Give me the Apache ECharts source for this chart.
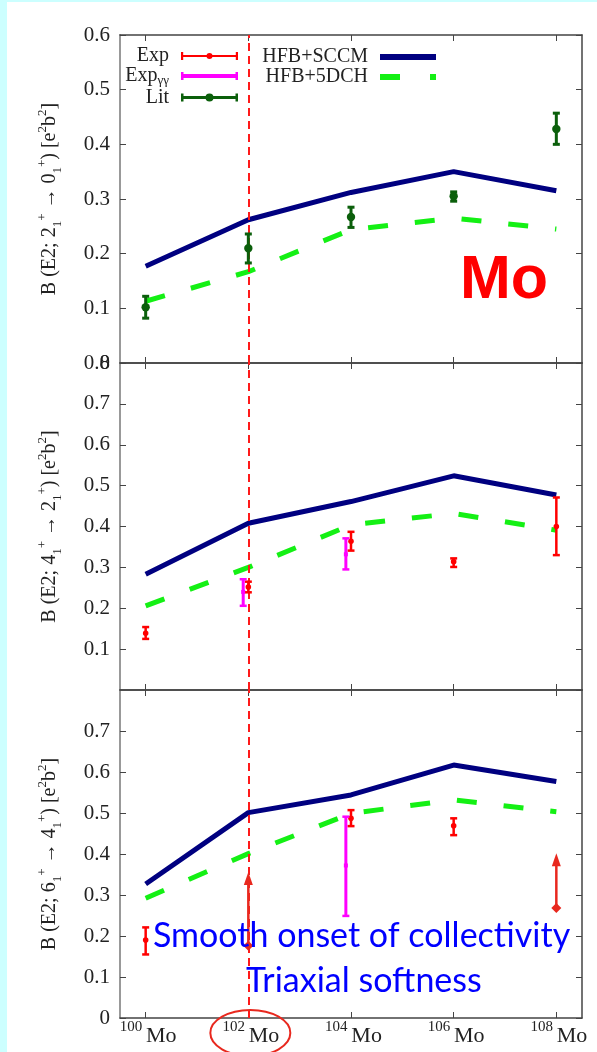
<!DOCTYPE html>
<html><head><meta charset="utf-8">
<script src="https://cdn.jsdelivr.net/npm/echarts@6/dist/echarts.min.js"></script>
<style>html,body{margin:0;padding:0;background:#fff}#c{width:597px;height:1052px}</style>
</head><body><div id="c"></div>
<script>
// ---------- data ----------
const masses = [100, 102, 104, 106, 108];
const massTicks = [100, 102, 104, 106, 108];
const highlightMass = 102;

// Panel 1: B(E2; 2+ -> 0+)
const sccm20 = [0.177, 0.262, 0.312, 0.350, 0.315];
const dch20  = [0.113, 0.167, 0.244, 0.265, 0.245];
const litX   = [100, 102, 104, 106, 108];
const litVal = [0.102, 0.210, 0.267, 0.305, 0.428];
const litLo  = [0.082, 0.183, 0.248, 0.296, 0.400];
const litHi  = [0.122, 0.236, 0.285, 0.313, 0.457];

// Panel 2: B(E2; 4+ -> 2+)
const sccm42 = [0.283, 0.408, 0.461, 0.524, 0.477];
const dch42  = [0.206, 0.300, 0.404, 0.432, 0.391];
const exp42X = [100, 102, 104, 106, 108];
const exp42V = [0.139, 0.252, 0.364, 0.314, 0.400];
const exp42L = [0.125, 0.239, 0.341, 0.301, 0.330];
const exp42H = [0.154, 0.265, 0.387, 0.322, 0.471];
const gg42X  = [101.9, 103.9];
const gg42V  = [0.240, 0.332];
const gg42L  = [0.206, 0.295];
const gg42H  = [0.271, 0.371];

// Panel 3: B(E2; 6+ -> 4+)
const sccm64 = [0.327, 0.501, 0.544, 0.617, 0.577];
const dch64  = [0.292, 0.401, 0.499, 0.532, 0.503];
const exp64X = [100, 104, 106];
const exp64V = [0.190, 0.487, 0.469];
const exp64L = [0.155, 0.468, 0.446];
const exp64H = [0.221, 0.507, 0.487];
const gg64X  = [103.9];
const gg64V  = [0.372];
const gg64L  = [0.249];
const gg64H  = [0.491];
const lim64X    = [102, 108];
const lim64Base = [0.176, 0.268];
const lim64Tip  = [0.356, 0.402];

const yMax = [0.6, 0.8, 0.8];
const yNames = [
  '{t|B (E2; 2}{sb|1}{sp|+}{t| → 0}{sb|1}{sp|+}{t|) [e}{sp|2}{t|b}{sp|2}{t|]}',
  '{t|B (E2; 4}{sb|1}{sp|+}{t| → 2}{sb|1}{sp|+}{t|) [e}{sp|2}{t|b}{sp|2}{t|]}',
  '{t|B (E2; 6}{sb|1}{sp|+}{t| → 4}{sb|1}{sp|+}{t|) [e}{sp|2}{t|b}{sp|2}{t|]}'
];

// ---------- styles ----------
const SERIF = '"Liberation Serif", "DejaVu Serif", serif';
const C_SCCM = '#000080', C_DCH = '#14f014', C_EXP = '#ff0000', C_GG = '#ff00ff', C_LIT = '#0b5f0b', C_LIM = '#e8281e';

const grids = [
  {left: 120, right: 15, top: 35, height: 328},
  {left: 120, right: 15, top: 363, height: 327},
  {left: 120, right: 15, top: 690, height: 328}
];

const xAxes = [];
const yAxes = [];
for (let g = 0; g < 3; g++) {
  xAxes.push({
    gridIndex: g, type: 'value', min: 99.5, max: 108.5, position: 'bottom',
    axisLine: {show: true, onZero: false, lineStyle: {color: '#444', width: 1.5}},
    axisTick: {show: true, inside: true, length: 6, customValues: massTicks, lineStyle: {color: '#444', width: 1}},
    splitLine: {show: false},
    axisLabel: g === 2 ? {
      show: true, customValues: massTicks, margin: 2, align: 'center', padding: [0, 0, 0, 5],
      formatter: v => '{m|' + v + ' }{e|Mo}',
      rich: {
        m: {fontFamily: SERIF, fontSize: 15, color: '#222', lineHeight: 27, verticalAlign: 'top'},
        e: {fontFamily: SERIF, fontSize: 22, color: '#222', lineHeight: 27, verticalAlign: 'bottom'}
      }
    } : {show: false}
  });
  xAxes.push({
    gridIndex: g, type: 'value', min: 99.5, max: 108.5, position: 'top',
    axisLine: {show: true, onZero: false, lineStyle: {color: '#444', width: 1.5}},
    axisTick: {show: true, inside: true, length: 6, customValues: massTicks, lineStyle: {color: '#444', width: 1}},
    splitLine: {show: false}, axisLabel: {show: false}
  });
  yAxes.push({
    gridIndex: g, type: 'value', min: 0, max: yMax[g], interval: 0.1, position: 'left',
    axisLine: {show: true, onZero: false, lineStyle: {color: '#999', width: 2}},
    axisTick: {show: true, inside: true, length: 6, lineStyle: {color: '#444', width: 1}},
    splitLine: {show: false},
    axisLabel: {
      show: true, margin: 10, fontFamily: SERIF, fontSize: 21, color: '#222',
      showMinLabel: g !== 1, showMaxLabel: g !== 2,
      formatter: v => (Math.abs(v) < 1e-9 ? '0' : v.toFixed(1))
    },
    name: yNames[g], nameLocation: 'middle', nameGap: 56, nameRotate: 90,
    nameTextStyle: {
      fontFamily: SERIF, fontSize: 20, color: '#222',
      rich: {
        t: {fontFamily: SERIF, fontSize: 20, color: '#222', lineHeight: 28, verticalAlign: 'middle'},
        sb: {fontFamily: SERIF, fontSize: 13, color: '#222', lineHeight: 28, verticalAlign: 'bottom'},
        sp: {fontFamily: SERIF, fontSize: 13, color: '#222', lineHeight: 28, verticalAlign: 'top'}
      }
    }
  });
  yAxes.push({
    gridIndex: g, type: 'value', min: 0, max: yMax[g], interval: 0.1, position: 'right',
    axisLine: {show: true, onZero: false, lineStyle: {color: '#444', width: 1.5}},
    axisTick: {show: true, inside: true, length: 6, lineStyle: {color: '#444', width: 1}},
    splitLine: {show: false}, axisLabel: {show: false}
  });
}

function errBarRender(cfg) {
  return function (params, api) {
    const x = api.value(0), v = api.value(1), lo = api.value(2), hi = api.value(3);
    const p = api.coord([x, v]), pl = api.coord([x, lo]), ph = api.coord([x, hi]);
    const c = api.visual('color');
    const ch = [
      {type: 'line', shape: {x1: p[0], y1: pl[1], x2: p[0], y2: ph[1]}, style: {stroke: c, lineWidth: cfg.lw}},
      {type: 'line', shape: {x1: p[0] - cfg.cap, y1: pl[1], x2: p[0] + cfg.cap, y2: pl[1]}, style: {stroke: c, lineWidth: cfg.capW}},
      {type: 'line', shape: {x1: p[0] - cfg.cap, y1: ph[1], x2: p[0] + cfg.cap, y2: ph[1]}, style: {stroke: c, lineWidth: cfg.capW}},
      cfg.marker === 'circle'
        ? {type: 'circle', shape: {cx: p[0], cy: p[1], r: cfg.r}, style: {fill: c}}
        : {type: 'rect', shape: {x: p[0] - cfg.r, y: p[1] - cfg.r, width: 2 * cfg.r, height: 2 * cfg.r}, style: {fill: c}}
    ];
    return {type: 'group', children: ch};
  };
}
function limitRender(params, api) {
  const x = api.value(0), base = api.value(1), tip = api.value(2);
  const pb = api.coord([x, base]), pt = api.coord([x, tip]);
  const c = api.visual('color');
  const hw = 4.5, hh = 13, d = 5;
  return {type: 'group', children: [
    {type: 'line', shape: {x1: pb[0], y1: pb[1], x2: pt[0], y2: pt[1] + hh - 1}, style: {stroke: c, lineWidth: 2.5}},
    {type: 'polygon', shape: {points: [[pt[0], pt[1]], [pt[0] - hw, pt[1] + hh], [pt[0] + hw, pt[1] + hh]]}, style: {fill: c}},
    {type: 'polygon', shape: {points: [[pb[0], pb[1] - d], [pb[0] + d, pb[1]], [pb[0], pb[1] + d], [pb[0] - d, pb[1]]]}, style: {fill: c}}
  ]};
}
function rows(xs, a, b, c) { return xs.map((x, i) => c ? [x, a[i], b[i], c[i]] : [x, a[i], b[i]]); }

const EXP_CFG = {lw: 2.5, cap: 3.5, capW: 2.5, r: 2.8, marker: 'circle'};
const GG_CFG  = {lw: 3, cap: 3.5, capW: 2.5, r: 2, marker: 'rect'};
const LIT_CFG = {lw: 3, cap: 3.5, capW: 3, r: 4.2, marker: 'circle'};

const vline = {
  silent: true, symbol: 'none', label: {show: false},
  lineStyle: {color: '#ff1a1a', type: [8, 5], width: 2},
  data: [{xAxis: highlightMass}]
};

const sccmAll = [sccm20, sccm42, sccm64];
const dchAll = [dch20, dch42, dch64];
const series = [];
for (let g = 0; g < 3; g++) {
  series.push({
    name: 'HFB+SCCM', type: 'line', xAxisIndex: 2 * g, yAxisIndex: 2 * g, z: 3,
    data: masses.map((m, i) => [m, sccmAll[g][i]]), symbol: 'none', showSymbol: false,
    lineStyle: {color: C_SCCM, width: 5}, itemStyle: {color: C_SCCM},
    markLine: vline
  });
  series.push({
    name: 'HFB+5DCH', type: 'line', xAxisIndex: 2 * g, yAxisIndex: 2 * g, z: 3,
    data: masses.map((m, i) => [m, dchAll[g][i]]), symbol: 'none', showSymbol: false,
    lineStyle: {color: C_DCH, width: 5, type: [20, 27]}, itemStyle: {color: C_DCH}
  });
}
series.push({name: 'Lit', type: 'custom', xAxisIndex: 0, yAxisIndex: 0, z: 5, clip: false,
  itemStyle: {color: C_LIT}, encode: {x: 0, y: 1}, renderItem: errBarRender(LIT_CFG),
  data: rows(litX, litVal, litLo, litHi)});
series.push({name: 'Exp', type: 'custom', xAxisIndex: 2, yAxisIndex: 2, z: 5, clip: false,
  itemStyle: {color: C_EXP}, encode: {x: 0, y: 1}, renderItem: errBarRender(EXP_CFG),
  data: rows(exp42X, exp42V, exp42L, exp42H)});
series.push({name: 'Expγγ', type: 'custom', xAxisIndex: 2, yAxisIndex: 2, z: 5, clip: false,
  itemStyle: {color: C_GG}, encode: {x: 0, y: 1}, renderItem: errBarRender(GG_CFG),
  data: rows(gg42X, gg42V, gg42L, gg42H)});
series.push({name: 'Exp', type: 'custom', xAxisIndex: 4, yAxisIndex: 4, z: 5, clip: false,
  itemStyle: {color: C_EXP}, encode: {x: 0, y: 1}, renderItem: errBarRender(EXP_CFG),
  data: rows(exp64X, exp64V, exp64L, exp64H)});
series.push({name: 'Expγγ', type: 'custom', xAxisIndex: 4, yAxisIndex: 4, z: 5, clip: false,
  itemStyle: {color: C_GG}, encode: {x: 0, y: 1}, renderItem: errBarRender(GG_CFG),
  data: rows(gg64X, gg64V, gg64L, gg64H)});
series.push({name: 'Exp', type: 'custom', xAxisIndex: 4, yAxisIndex: 4, z: 5, clip: false,
  itemStyle: {color: C_LIM}, encode: {x: 0, y: 1}, renderItem: limitRender,
  data: rows(lim64X, lim64Base, lim64Tip)});

const expIcon = 'path://M0,2.9H57V5.1H0Z M0,0H2.2V8H0Z M54.8,0H57V8H54.8Z M25.5,4A3,3 0 1 1 31.5,4A3,3 0 1 1 25.5,4Z';
const ggIcon  = 'path://M0,2H57V6H0Z M0,0H2.5V8H0Z M54.5,0H57V8H54.5Z M27,2.5H30V5.5H27Z';
const litIcon = 'path://M0,2.6H57V5.4H0Z M0,0H2.5V8H0Z M54.5,0H57V8H54.5Z M24.5,4A4,4 0 1 1 32.5,4A4,4 0 1 1 24.5,4Z';
const sccmIcon = 'path://M0,0H56V6H0Z';
const dchIcon  = 'path://M0,0H20V6H0Z M50,0H56V6H50Z';

function legendText(lh) {
  return {
    fontFamily: SERIF, fontSize: 20, color: '#222', padding: [0, 7, 0, 0],
    rich: {
      t: {fontFamily: SERIF, fontSize: 20, color: '#222', lineHeight: lh},
      s: {fontFamily: SERIF, fontSize: 13, color: '#222', lineHeight: lh, verticalAlign: 'bottom'}
    }
  };
}
const legendFmt = n => (n === 'Expγγ' ? '{t|Exp}{s|γγ}' : '{t|' + n + '}');

const chart = echarts.init(document.getElementById('c'), null, {renderer: 'canvas'});
chart.setOption({
  backgroundColor: '#ffffff',
  animation: false,
  grid: grids,
  xAxis: xAxes,
  yAxis: yAxes,
  legend: [
    {data: [{name: 'Exp', icon: expIcon}, {name: 'Expγγ', icon: ggIcon}, {name: 'Lit', icon: litIcon}],
     orient: 'vertical', align: 'right', right: 359, top: 46, itemWidth: 57, itemHeight: 8, itemGap: 0,
     padding: 0, textStyle: legendText(23), formatter: legendFmt, itemStyle: {borderWidth: 0}},
    {data: [{name: 'HFB+SCCM', icon: sccmIcon}, {name: 'HFB+5DCH', icon: dchIcon}],
     orient: 'vertical', align: 'right', right: 161, top: 47, itemWidth: 56, itemHeight: 6, itemGap: 0,
     padding: 0, textStyle: legendText(21), formatter: legendFmt, itemStyle: {borderWidth: 0}}
  ],
  series: series
});

const hx = chart.convertToPixel({xAxisIndex: 4}, highlightMass);
chart.setOption({
  graphic: [
    {type: 'rect', z: 100, silent: true, shape: {x: 0, y: 0, width: 7, height: 1052}, style: {fill: '#ccffff'}},
    {type: 'rect', z: 100, silent: true, shape: {x: 0, y: 0, width: 597, height: 2}, style: {fill: '#ccffff'}},
    {type: 'text', z: 100, silent: true, x: 460, y: 281,
     style: {text: 'Mo', fill: '#ff0000', font: 'bold 61px "Liberation Sans", Arial, sans-serif', verticalAlign: 'middle', align: 'left'}},
    {type: 'text', z: 100, silent: true, x: 153, y: 936,
     style: {text: 'Smooth onset of collectivity', fill: '#0000ff', font: '34px Lato, "Open Sans", sans-serif', verticalAlign: 'middle', align: 'left'}},
    {type: 'text', z: 100, silent: true, x: 246, y: 981,
     style: {text: 'Triaxial softness', fill: '#0000ff', font: '34px Lato, "Open Sans", sans-serif', verticalAlign: 'middle', align: 'left'}},
    {type: 'ellipse', z: 100, silent: true, shape: {cx: hx + 2, cy: 1033, rx: 40, ry: 23},
     style: {fill: 'none', stroke: '#e8281e', lineWidth: 2}}
  ]
});
</script></body></html>
